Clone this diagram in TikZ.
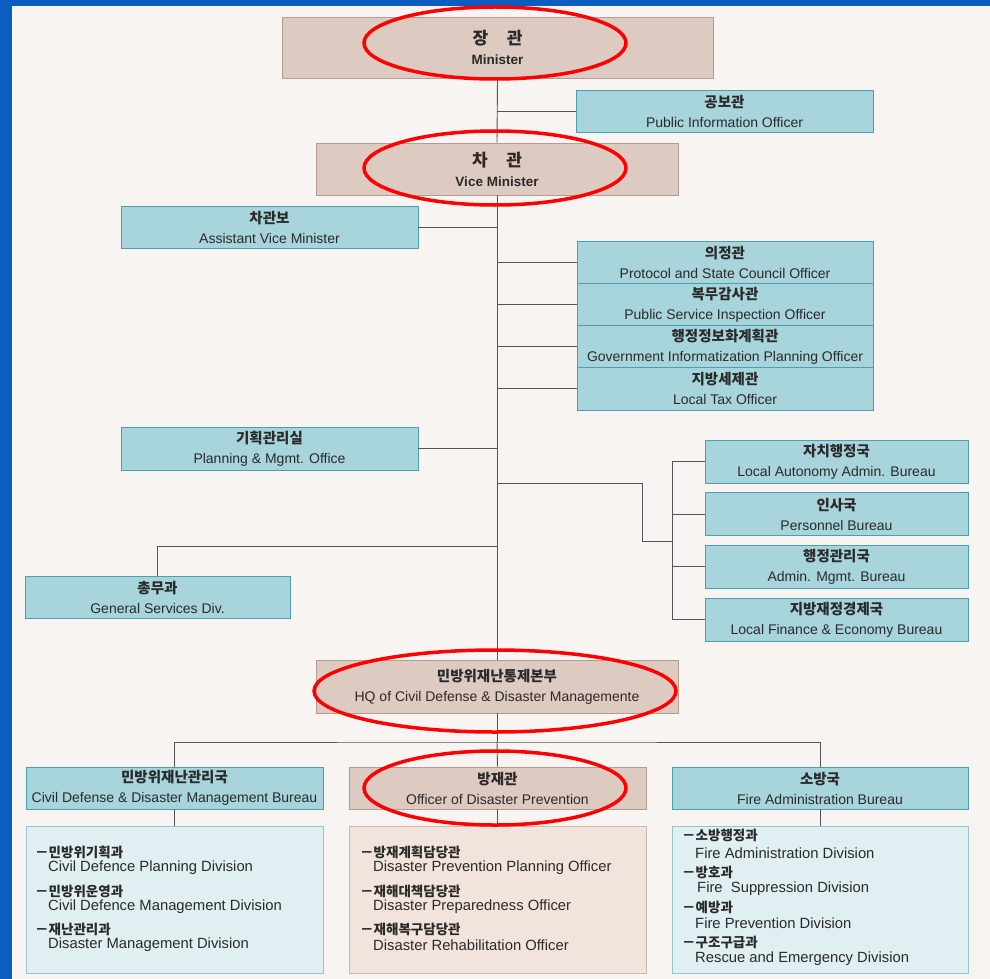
\documentclass[tikz,border=0pt]{standalone}
\usepackage{fontspec}
\setmainfont{Liberation Sans}
\newfontfamily\kr{Noto Sans CJK KR}
\newfontfamily\en{Liberation Sans}
\usetikzlibrary{positioning}
\definecolor{slideblue}{HTML}{0B5EC0}
\definecolor{paper}{HTML}{F8F4F1}
\definecolor{cyanfill}{HTML}{A8D4DB}
\definecolor{cyandraw}{HTML}{4C9FB3}
\definecolor{tanfill}{HTML}{DDCAC1}
\definecolor{tandraw}{HTML}{B49C92}
\definecolor{lcyan}{HTML}{E0EFF2}
\definecolor{ltan}{HTML}{F2E4DC}
\definecolor{linegray}{HTML}{555555}
\definecolor{txt}{HTML}{2A2A2A}
\tikzset{
  base/.style={rectangle, draw, line width=0.9pt, align=center, inner sep=0pt, text=txt, font=\fontsize{14}{20}\selectfont},
  cbox/.style={base, fill=cyanfill, draw=cyandraw},
  tbox/.style={base, fill=tanfill, draw=tandraw},
  lcbox/.style={base, fill=lcyan, draw=cyandraw!60},
  ltbox/.style={base, fill=ltan, draw=tandraw!70},
  conn/.style={draw=linegray, line width=0.9pt},
  hl/.style={draw=red, line width=3.5pt},
  item/.style={anchor=west, inner sep=0pt, text=txt, align=left},
}
\newcommand{\ko}[1]{{\kr\bfseries\fontsize{14.5}{16}\selectfont #1}}
\newcommand{\kbig}[1]{{\kr\bfseries\fontsize{17}{18}\selectfont #1}}
\newcommand{\eg}[1]{{\en\fontsize{14}{16}\selectfont #1}}
\newcommand{\egs}[1]{{\en\fontsize{14.8}{16}\selectfont #1}}
\newcommand{\egb}[1]{{\en\bfseries\fontsize{13.5}{15}\selectfont #1}}
\newcommand{\ks}[1]{{\kr\bfseries\fontsize{13.5}{15}\selectfont #1}}
\begin{document}
\begin{tikzpicture}[x=1pt,y=-1pt]
\fill[slideblue] (0,0) rectangle (990,979);
\fill[paper] (12,6) rectangle (990,979);
\useasboundingbox (0,0) rectangle (990,979);

% top level
\node[tbox, minimum width=431, minimum height=61] (min) at (497.5,47.5) {\kbig{장\hspace{1.1em}관}\\\egb{Minister}};
\node[cbox, minimum width=297, minimum height=42] (pio) at (724.5,111) {\ko{공보관}\\\eg{Public Information Officer}};
\node[tbox, minimum width=362, minimum height=52] (vice) at (497,169) {\kbig{차\hspace{1.1em}관}\\\egb{Vice Minister}};
\node[cbox, minimum width=297, minimum height=42] (avm) at (269.5,227) {\ko{차관보}\\\eg{Assistant Vice Minister}};

% stacked officers
\node[cbox, minimum width=296, minimum height=42.25] (s1) at (725,262.1) {\ko{의정관}\\\eg{Protocol and State Council Officer}};
\node[cbox, minimum width=296, minimum height=42.25] (s2) at (725,304.4) {\ko{복무감사관}\\\eg{Public Service Inspection Officer}};
\node[cbox, minimum width=296, minimum height=42.25] (s3) at (725,346.6) {\ko{행정정보화계획관}\\\eg{Government Informatization Planning Officer}};
\node[cbox, minimum width=296, minimum height=42.25] (s4) at (725,388.9) {\ko{지방세제관}\\\eg{Local Tax Officer}};

\node[cbox, minimum width=297, minimum height=43] (plan) at (269.5,448.5) {\ko{기획관리실}\\\eg{Planning \& Mgmt. Office}};

% bureaus right
\node[cbox, minimum width=263, minimum height=43] (b1) at (836.5,461.5) {\ko{자치행정국}\\\eg{Local Autonomy Admin. Bureau}};
\node[cbox, minimum width=263, minimum height=43] (b2) at (836.5,514) {\ko{인사국}\\\eg{Personnel Bureau}};
\node[cbox, minimum width=263, minimum height=43] (b3) at (836.5,566.5) {\ko{행정관리국}\\\eg{Admin. Mgmt. Bureau}};
\node[cbox, minimum width=263, minimum height=43] (b4) at (836.5,619.5) {\ko{지방재정경제국}\\\eg{Local Finance \& Economy Bureau}};

\node[cbox, minimum width=265, minimum height=42] (gen) at (157.5,597) {\ko{총무과}\\\eg{General Services Div.}};

\node[tbox, minimum width=362, minimum height=53] (hq) at (497,686.5) {\ko{민방위재난통제본부}\\\eg{HQ of Civil Defense \& Disaster Managemente}};

% three bureaus
\node[cbox, minimum width=297, minimum height=42] (cd) at (174.5,788) {\ko{민방위재난관리국}\\\eg{Civil Defense \& Disaster Management Bureau}};
\node[tbox, minimum width=297, minimum height=42] (odp) at (497.5,788) {\ko{방재관}\\\eg{Officer of Disaster Prevention}};
\node[cbox, minimum width=296, minimum height=42] (fab) at (820,788) {\ko{소방국}\\\eg{Fire Administration Bureau}};

\node[lcbox, minimum width=297, minimum height=147] (cdsub) at (174.5,899.5) {};
\node[ltbox, minimum width=297, minimum height=147] (odpsub) at (497.5,899.5) {};
\node[lcbox, minimum width=296, minimum height=147] (fabsub) at (820,899.5) {};

% sub-box items
\node[item] (c1) at (35,852) {\ks{－민방위기획과}};
\node[item] (c1e) at (48,868) {\egs{Civil Defence Planning Division}};
\node[item] (c2) at (35,891) {\ks{－민방위운영과}};
\node[item] (c2e) at (48,907) {\egs{Civil Defence Management Division}};
\node[item] (c3) at (35,929) {\ks{－재난관리과}};
\node[item] (c3e) at (48,945) {\egs{Disaster Management Division}};

\node[item] (d1) at (360,852) {\ks{－방재계획담당관}};
\node[item] (d1e) at (373,868) {\egs{Disaster Prevention Planning Officer}};
\node[item] (d2) at (360,891) {\ks{－재해대책담당관}};
\node[item] (d2e) at (373,907) {\egs{Disaster Preparedness Officer}};
\node[item] (d3) at (360,929) {\ks{－재해복구담당관}};
\node[item] (d3e) at (373,945) {\egs{Disaster Rehabilitation Officer}};

\node[item] (f1) at (682,835) {\ks{－소방행정과}};
\node[item] (f1e) at (695,853) {\egs{Fire Administration Division}};
\node[item] (f2) at (682,872) {\ks{－방호과}};
\node[item] (f2e) at (697,889) {\egs{Fire\ \ Suppression Division}};
\node[item] (f3) at (682,907) {\ks{－예방과}};
\node[item] (f3e) at (695,923) {\egs{Fire Prevention Division}};
\node[item] (f4) at (682,942) {\ks{－구조구급과}};
\node[item] (f4e) at (695,959) {\egs{Rescue and Emergency Division}};

% connectors
\coordinate (t1) at (497,111);
\coordinate (t2) at (497,227);
\coordinate (tr) at (497,483);
\coordinate (tg) at (497,546);
\coordinate (j1) at (642,483);
\coordinate (j2) at (642,541);
\coordinate (j3) at (672,541);
\coordinate (vb) at (672,461.5);
\coordinate (ve) at (672,619.5);
\coordinate (hb) at (497,742);

\draw[conn] (min.south) -- (vice.north);
\draw[conn] (vice.south) -- (hq.north);
\draw[conn] (t1) -- (pio.west);
\draw[conn] (avm.east) -- (t2);
\foreach \s in {s1,s2,s3,s4} \draw[conn] (\s.west) -- (\s.west -| vice.south);
\draw[conn] (plan.east) -- (plan.east -| vice.south);
\draw[conn] (tr) -- (j1) -- (j2) -- (j3);
\draw[conn] (vb) -- (ve);
\foreach \b in {b1,b2,b3,b4} \draw[conn] (\b.west) -- (\b.west -| vb);
\draw[conn] (tg) -| (gen.north);
\draw[conn] (hq.south) -- (hb);
\draw[conn] (cd.north) |- (hb) -| (fab.north);
\draw[conn] (hb) -- (odp.north);
\draw[conn] (cd.south) -- (cdsub.north);
\draw[conn] (odp.south) -- (odpsub.north);
\draw[conn] (fab.south) -- (fabsub.north);

% red highlight ellipses
\draw[hl] (495,43) ellipse [x radius=131, y radius=36];
\draw[hl] (495,168) ellipse [x radius=131, y radius=37];
\draw[hl] (495,691) ellipse [x radius=181, y radius=41];
\draw[hl] (495,788) ellipse [x radius=131, y radius=37];
\end{tikzpicture}
\end{document}
